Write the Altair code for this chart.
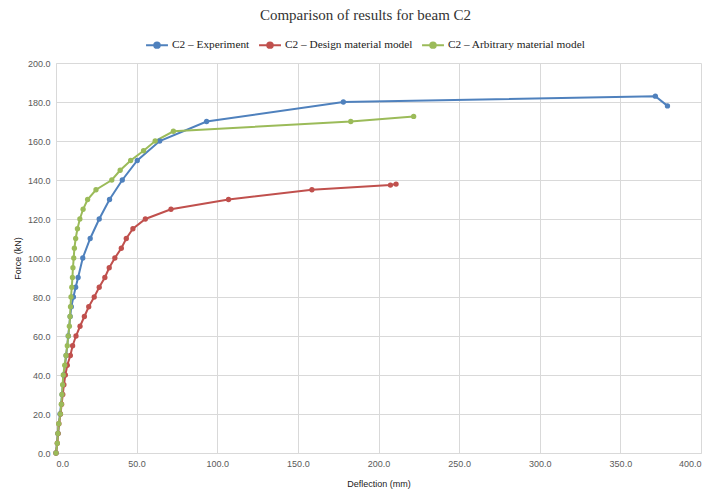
import altair as alt
import pandas as pd

series_names = ["C2 – Experiment", "C2 – Design material model", "C2 – Arbitrary material model"]
series_colors = ["#4F81BD", "#C0504D", "#9BBB59"]

exp_force = [0, 10, 20, 30, 40, 50, 60, 70, 75, 80, 85, 90, 100, 110, 120, 130, 140, 150, 160, 170, 180, 183, 178]
exp_defl = [0, 1.2, 2.5, 3.8, 4.8, 6.3, 7.6, 8.8, 9.5, 10.8, 12.2, 13.7, 16.6, 21.2, 26.8, 33.2, 41.1, 50.4, 64.3, 93.4, 178.2, 371.7, 379.2]

des_force = [0, 5, 10, 15, 20, 25, 30, 35, 40, 45, 50, 55, 60, 65, 70, 75, 80, 85, 90, 95, 100, 105, 110, 115, 120, 125, 130, 135, 137.4, 137.9]
des_defl = [0, 0.8, 1.3, 1.8, 2.8, 3.5, 4.2, 4.9, 5.8, 7.0, 8.9, 10.3, 12.4, 14.9, 17.6, 20.3, 23.7, 26.8, 30.3, 33.0, 36.5, 40.5, 43.6, 47.7, 55.4, 71.3, 107.0, 158.7, 207.4, 210.9]

arb_force = [0, 5, 10, 15, 20, 25, 30, 35, 40, 45, 50, 55, 60, 65, 70, 75, 80, 85, 90, 95, 100, 105, 110, 115, 120, 125, 130, 135, 140, 145, 150, 155, 160, 165, 170, 172.6]
arb_defl = [0, 0.8, 1.2, 1.7, 2.7, 3.3, 3.7, 4.1, 4.5, 5.4, 6.2, 7.0, 7.6, 8.3, 8.7, 9.0, 9.3, 9.8, 10.2, 10.5, 11.0, 11.4, 12.2, 13.3, 14.8, 16.8, 19.6, 24.8, 34.6, 39.8, 46.3, 54.3, 61.5, 72.8, 182.8, 221.8]

rows = []
for name, xs, ys in zip(series_names, [exp_defl, des_defl, arb_defl], [exp_force, des_force, arb_force]):
    for i, (x, y) in enumerate(zip(xs, ys)):
        rows.append({"series": name, "defl": x, "force": y, "idx": i})
df = pd.DataFrame(rows)

color = alt.Color(
    "series:N",
    scale=alt.Scale(domain=series_names, range=series_colors),
    sort=series_names,
    legend=alt.Legend(
        title=None,
        orient="none",
        legendX=89,
        legendY=-30,
        direction="horizontal",
        symbolType="M-1,0H1M-0.25,0A0.25,0.25,0,1,1,0.25,0A0.25,0.25,0,1,1,-0.25,0Z",
        symbolSize=480,
        symbolStrokeWidth=2,
        labelFont="Liberation Serif",
        labelFontSize=11.3,
        labelColor="#222222",
        labelOffset=3,
        columnPadding=5,
        padding=0,
    ),
)

x = alt.X("defl:Q", title="Deflection (mm)",
          scale=alt.Scale(domain=[0, 400], nice=False),
          axis=alt.Axis(values=list(range(0, 401, 50)), format=".1f"))
y = alt.Y("force:Q", title="Force (kN)",
          scale=alt.Scale(domain=[0, 200], nice=False),
          axis=alt.Axis(values=list(range(0, 201, 20)), format=".1f"))

base = alt.Chart(df).encode(x=x, y=y, color=color, order="idx:Q")
lines = base.mark_line(strokeWidth=2)
points = base.mark_point(filled=True, size=28, opacity=1)

chart = (lines + points).properties(
    width=645, height=390,
    title=alt.Title("Comparison of results for beam C2", font="Liberation Serif",
                    fontSize=15, fontWeight="normal", color="#333333", offset=10, dx=-13),
    autosize=alt.AutoSizeParams(type="none"),
    padding={"left": 56, "top": 63, "right": 13, "bottom": 41},
).configure_view(stroke=None).configure_axis(
    gridColor="#D9D9D9", domainColor="#D9D9D9", tickColor="#D9D9D9", ticks=False,
    labelFont="Liberation Sans", labelFontSize=9, labelColor="#595959",
    titleFont="Liberation Sans", titleFontSize=9, titleFontWeight="normal", titleColor="#222222",
    labelPadding=6,
).configure_axisY(titlePadding=5).configure_axisX(titlePadding=11)

chart.save("out.html", embed_options={"renderer": "svg", "actions": False})
